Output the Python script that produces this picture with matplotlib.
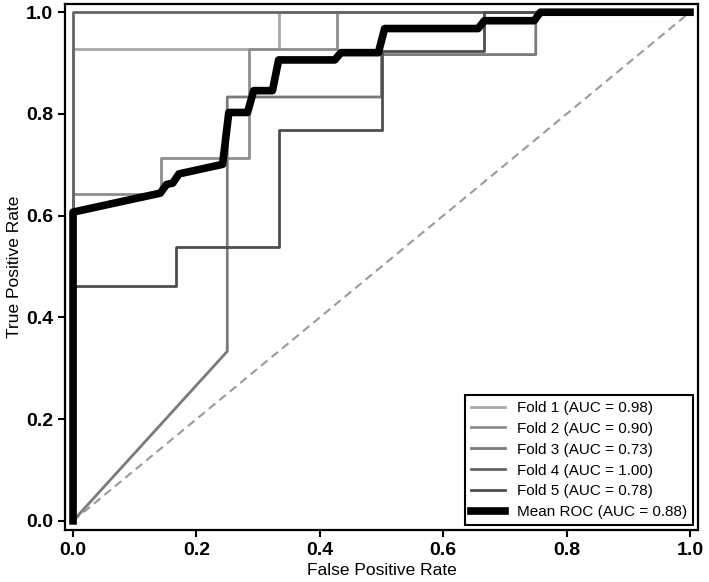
import matplotlib
matplotlib.use("Agg")
import matplotlib.pyplot as plt

plt.rcParams['font.family'] = ['Liberation Sans', 'DejaVu Sans']

# Fold ROC curves (FPR, TPR)
fold1_fpr = [0.0, 0.0, 0.3333, 0.3333, 1.0]
fold1_tpr = [0.0, 0.9286, 0.9286, 1.0, 1.0]
fold2_fpr = [0.0, 0.0, 0.1429, 0.1429, 0.2857, 0.2857, 0.4286, 0.4286, 1.0]
fold2_tpr = [0.0, 0.6429, 0.6429, 0.7143, 0.7143, 0.9286, 0.9286, 1.0, 1.0]
fold3_fpr = [0.0, 0.25, 0.25, 0.5, 0.5, 0.75, 0.75, 1.0]
fold3_tpr = [0.0, 0.3333, 0.8333, 0.8333, 0.9167, 0.9167, 1.0, 1.0]
fold4_fpr = [0.0, 0.0, 1.0]
fold4_tpr = [0.0, 1.0, 1.0]
fold5_fpr = [0.0, 0.0, 0.1667, 0.1667, 0.3333, 0.3333, 0.5, 0.5, 0.6667, 0.6667, 1.0]
fold5_tpr = [0.0, 0.4615, 0.4615, 0.5385, 0.5385, 0.7692, 0.7692, 0.9231, 0.9231, 1.0, 1.0]

mean_fpr = [0.0, 0.0, 0.1414, 0.1515, 0.1616, 0.1717, 0.2424, 0.2525, 0.2828,
            0.2929, 0.3232, 0.3333, 0.4242, 0.4343, 0.4949, 0.5051, 0.6566, 0.6667,
            0.7475, 0.7576, 1.0]
mean_tpr = [0.0, 0.6070, 0.6443, 0.6613, 0.6640, 0.6821, 0.7009, 0.8029, 0.8029,
            0.8458, 0.8458, 0.9062, 0.9062, 0.9205, 0.9205, 0.9679, 0.9679, 0.9833,
            0.9833, 1.0, 1.0]

fold_labels = ["Fold 1 (AUC = 0.98)", "Fold 2 (AUC = 0.90)", "Fold 3 (AUC = 0.73)",
               "Fold 4 (AUC = 1.00)", "Fold 5 (AUC = 0.78)"]
mean_label = "Mean ROC (AUC = 0.88)"
fold_colors = ["#a8a8a8", "#8e8e8e", "#7a7a7a", "#666666", "#4e4e4e"]

fig = plt.figure(figsize=(7.09, 5.82), dpi=100)
ax = fig.add_axes([0.0917, 0.0893, 0.8928, 0.9037])

ax.plot([0, 1], [0, 1], linestyle=(0, (4, 2.5)), color="#9a9a9a", lw=1.5)

folds = [(fold1_fpr, fold1_tpr), (fold2_fpr, fold2_tpr), (fold3_fpr, fold3_tpr),
         (fold4_fpr, fold4_tpr), (fold5_fpr, fold5_tpr)]
for (fx, fy), lab, c in zip(folds, fold_labels, fold_colors):
    ax.plot(fx, fy, color=c, lw=2.0, label=lab)

ax.plot(mean_fpr, mean_tpr, color="black", lw=5.5, label=mean_label)

ax.set_xlim(-0.013, 1.013)
ax.set_ylim(-0.018, 1.016)
ax.set_xticks([0.0, 0.2, 0.4, 0.6, 0.8, 1.0])
ax.set_yticks([0.0, 0.2, 0.4, 0.6, 0.8, 1.0])
ax.tick_params(direction="out", length=5, width=1.5, labelsize=14, colors="black")
for t in ax.get_xticklabels() + ax.get_yticklabels():
    t.set_fontweight("bold")
for s in ax.spines.values():
    s.set_linewidth(1.6)
    s.set_color("black")

ax.set_xlabel("False Positive Rate", fontsize=12.5, labelpad=3)
ax.set_ylabel("True Positive Rate", fontsize=12.5, labelpad=3)

leg = ax.legend(loc="lower right", fontsize=11, frameon=True, fancybox=False,
                edgecolor="black", framealpha=1, borderaxespad=0.3,
                labelspacing=0.45, handlelength=2.2)
leg.get_frame().set_linewidth(1.5)

fig.savefig("out.png", dpi=100)
